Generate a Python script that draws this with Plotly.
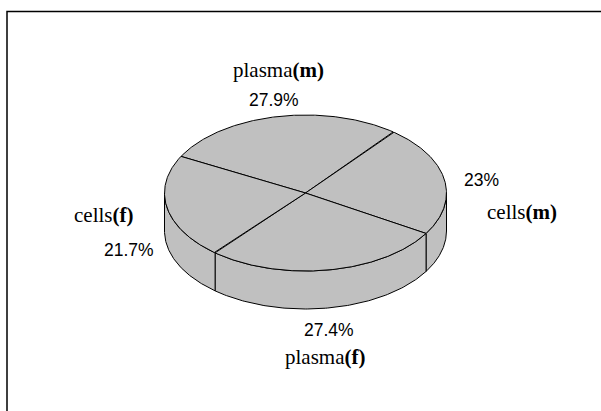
import numpy as np
import plotly.graph_objects as go

# ---- data (clockwise order, starting at the upper-left boundary) ----
categories = ["plasma(m)", "cells(m)", "plasma(f)", "cells(f)"]
values = [27.9, 23, 27.4, 21.7]

# ---- layout / geometry settings (pixels) ----
W, H = 601, 411
CX, CY = 305.5, 193.0      # centre of top ellipse
RX, RY = 141.0, 78.0       # radii of top ellipse
DEPTH = 38.0               # thickness of the pie
START_ANGLE = 152.0        # degrees, ccw from 3 o'clock; slices go clockwise
FILL = "#C0C0C0"
# label anchor positions (name, percent) in pixels
name_pos = [(278, 70), (522, 212), (325, 357), (103, 215)]
pct_pos = [(274, 100), (481, 180), (329, 330), (129, 250)]

total = float(sum(values))
fig = go.Figure()

# compute slice angle ranges
ranges = []
a = START_ANGLE
for v in values:
    span = 360.0 * v / total
    ranges.append((a - span, a))   # (lo, hi)
    a -= span


def ex(t):
    return CX + RX * np.cos(np.radians(t))


def ey(t):
    return CY - RY * np.sin(np.radians(t))


# ---- side walls (front half only) ----
front_windows = [(-540.0, -360.0), (-180.0, 0.0), (180.0, 360.0)]
for lo, hi in ranges:
    for wlo, whi in front_windows:
        s, e = max(lo, wlo), min(hi, whi)
        if e - s <= 0.01:
            continue
        t = np.linspace(s, e, 120)
        xs = np.concatenate([ex(t), ex(t[::-1])])
        ys = np.concatenate([ey(t), ey(t[::-1]) + DEPTH])
        xs = np.append(xs, xs[0])
        ys = np.append(ys, ys[0])
        fig.add_trace(go.Scatter(x=xs, y=ys, mode="lines", fill="toself",
                                 fillcolor=FILL,
                                 line=dict(color="black", width=1),
                                 hoverinfo="skip", showlegend=False))

# ---- top faces ----
for (lo, hi), cat, v in zip(ranges, categories, values):
    t = np.linspace(hi, lo, 200)
    xs = np.concatenate([[CX], ex(t), [CX]])
    ys = np.concatenate([[CY], ey(t), [CY]])
    fig.add_trace(go.Scatter(x=xs, y=ys, mode="lines", fill="toself",
                             fillcolor=FILL,
                             line=dict(color="black", width=1),
                             name=cat, hoverinfo="name", showlegend=False))

# ---- labels ----
for cat, v, (nx, ny), (px, py) in zip(categories, values, name_pos, pct_pos):
    base, paren = cat.split("(")
    fig.add_annotation(x=nx, y=ny, text=f"{base}<b>({paren}</b>",
                       showarrow=False, xanchor="center", yanchor="middle",
                       font=dict(family="Liberation Serif, Times New Roman, serif",
                                 size=21, color="black"))
    fig.add_annotation(x=px, y=py, text=f"{v:g}%",
                       showarrow=False, xanchor="center", yanchor="middle",
                       font=dict(family="Liberation Sans, Arial, sans-serif",
                                 size=17.5, color="black"))

# ---- chart frame (extends past the visible window) ----
fig.add_shape(type="rect", x0=7, y0=11.5, x1=900, y1=900, xref="x", yref="y",
              line=dict(color="black", width=1.5), fillcolor="rgba(0,0,0,0)",
              layer="below")

fig.update_layout(
    width=W, height=H, margin=dict(l=0, r=0, t=0, b=0),
    paper_bgcolor="white", plot_bgcolor="white",
    xaxis=dict(range=[0, W], visible=False, fixedrange=True),
    yaxis=dict(range=[H, 0], visible=False, fixedrange=True),
    showlegend=False,
)

fig.write_html("out.html", config={"displayModeBar": False},
               post_script="document.body.style.margin='0';")
